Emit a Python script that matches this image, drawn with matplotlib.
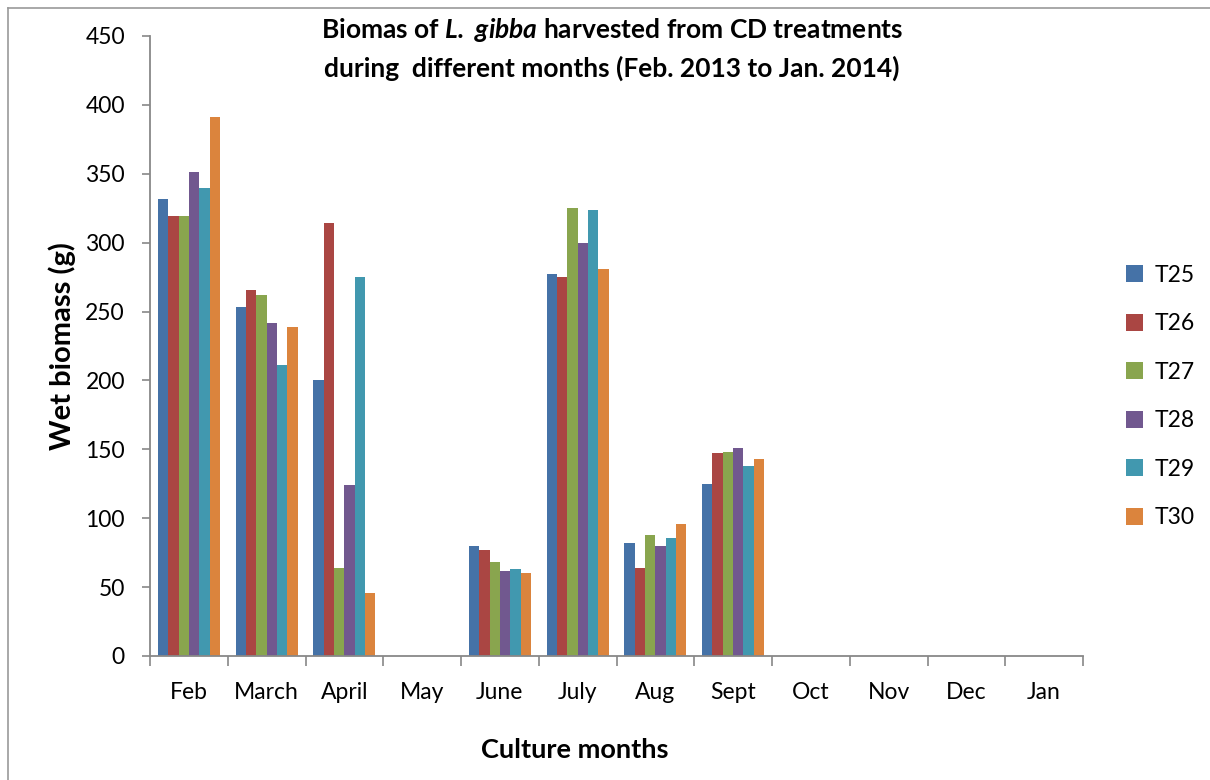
#Import the libraries required
import numpy as np
import matplotlib.pyplot as plt
from matplotlib.lines import Line2D

plt.rcParams['font.family'] = ['Lato', 'DejaVu Sans']
plt.rcParams['mathtext.fontset'] = 'custom'
plt.rcParams['mathtext.bfit'] = 'Lato:bold:italic'
plt.rcParams['mathtext.bf'] = 'Lato:bold'
plt.rcParams['mathtext.it'] = 'Lato:italic'

#Data
months = ['Feb', 'March', 'April', 'May', 'June', 'July', 'Aug', 'Sept', 'Oct', 'Nov', 'Dec', 'Jan']
treatments = ['T25', 'T26', 'T27', 'T28', 'T29', 'T30']
T25 = [332, 253, 200, 0, 80, 277, 82, 125, 0, 0, 0, 0]
T26 = [319, 266, 314, 0, 77, 275, 64, 147, 0, 0, 0, 0]
T27 = [319, 262, 64, 0, 68, 325, 88, 148, 0, 0, 0, 0]
T28 = [351, 242, 124, 0, 62, 300, 80, 151, 0, 0, 0, 0]
T29 = [340, 211, 275, 0, 63, 324, 86, 138, 0, 0, 0, 0]
T30 = [391, 239, 46, 0, 60, 281, 96, 143, 0, 0, 0, 0]
series = [T25, T26, T27, T28, T29, T30]
colors = ['#4572A7', '#AA4643', '#89A54E', '#71588F', '#4198AF', '#DB843D']

fig = plt.figure(figsize=(12.1, 7.8), dpi=100)
ax = fig.add_axes([150/1210, 1-656/780, 933/1210, 620/780])

x = np.arange(len(months))
w = 0.8 / len(series)
for i, (vals, c) in enumerate(zip(series, colors)):
    ax.bar(x - 0.4 + w*(i+0.5), vals, width=w, color=c, linewidth=0, label=treatments[i])

ax.set_xlim(-0.5, len(months)-0.5)
ax.set_ylim(0, 450)
ax.set_yticks(np.arange(0, 451, 50))
ax.set_xticks(x)
ax.set_xticklabels(months)
ax.set_xticks(np.arange(-0.5, len(months), 1), minor=True)
ax.tick_params(axis='x', which='major', length=0, pad=19, labelsize=16.5)
ax.tick_params(axis='x', which='minor', length=7, width=1.2, color='#888888')
ax.tick_params(axis='y', length=6, width=1.2, color='#888888', pad=12, labelsize=16.5)
for s in ['top', 'right']:
    ax.spines[s].set_visible(False)
for s in ['left', 'bottom']:
    ax.spines[s].set_color('#888888')
    ax.spines[s].set_linewidth(1.3)

fig.text(62/1210, 1-346/780, 'Wet biomass (g)', fontsize=21, fontweight='bold',
         rotation=90, ha='center', va='center')
fig.text(575/1210, 1-750/780, 'Culture months', fontsize=19.5, fontweight='bold', ha='center', va='center')

fig.text(612/1210, 1-30/780, r'Biomas of $\mathbfit{L.\ gibba}$ harvested from CD treatments',
         fontsize=19, fontweight='bold', ha='center', va='center')
fig.text(612/1210, 1-68/780, 'during  different months (Feb. 2013 to Jan. 2014)',
         fontsize=19, fontweight='bold', ha='center', va='center')

ax.legend(loc='upper left', bbox_to_anchor=(1105/1210, 1-244/780), bbox_transform=fig.transFigure,
          frameon=False, fontsize=16.5, handlelength=0.75, handleheight=0.75, labelspacing=1.2, handletextpad=0.5)

#Frame around the figure
fig.add_artist(Line2D([8/1210, 8/1210], [0, 1-8/780], color='#999999', lw=1.2, transform=fig.transFigure))
fig.add_artist(Line2D([8/1210, 1], [1-8/780, 1-8/780], color='#999999', lw=1.2, transform=fig.transFigure))

fig.savefig('out.png', dpi=100, facecolor='white')
